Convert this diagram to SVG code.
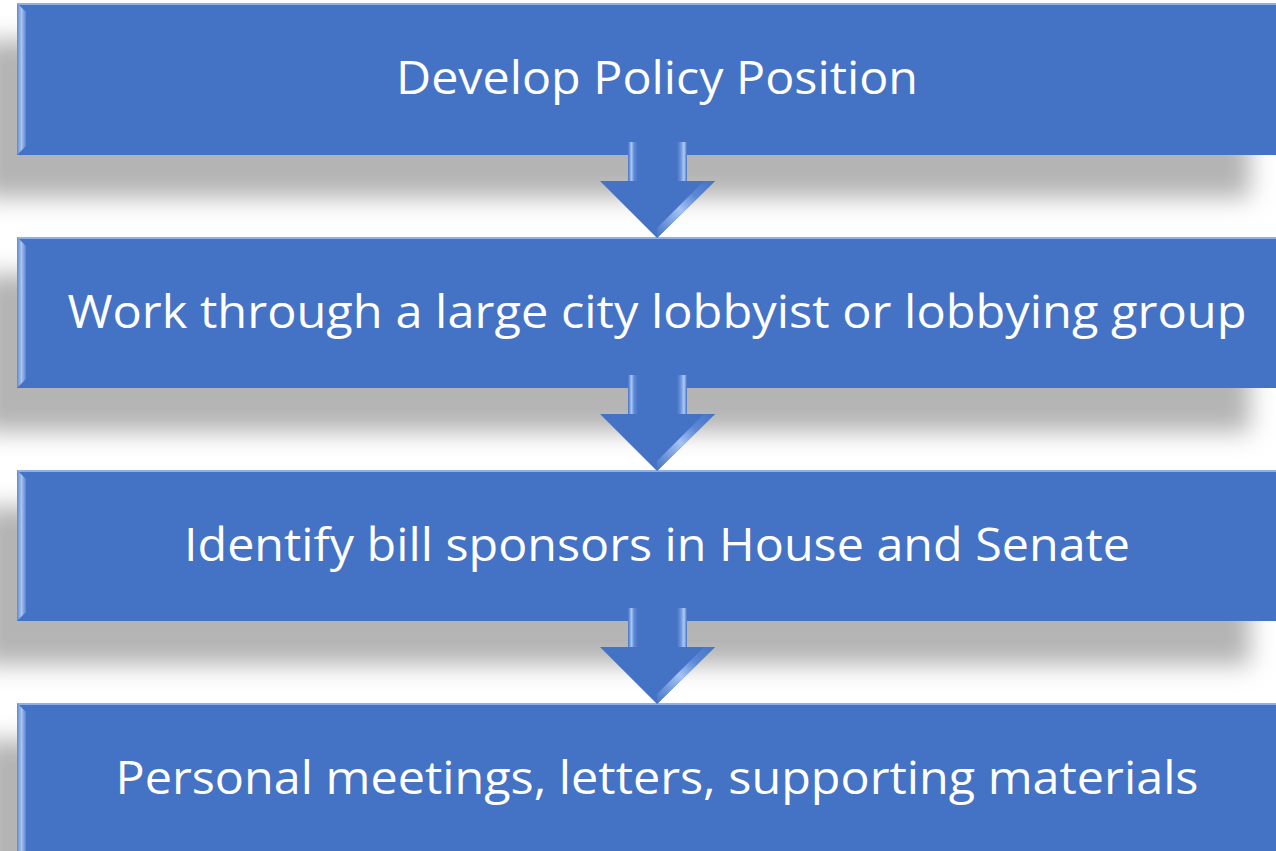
<svg xmlns="http://www.w3.org/2000/svg" width="1276" height="851" viewBox="0 0 1276 851">
<defs>
<filter id="sh" x="-10%" y="-50%" width="120%" height="200%"><feGaussianBlur stdDeviation="12"/></filter>
<linearGradient id="bev" x1="0" y1="0" x2="1" y2="0">
<stop offset="0" stop-color="#5f8ad4"/><stop offset="0.5" stop-color="#a8c4f0"/><stop offset="1" stop-color="#5a84cf"/>
</linearGradient>
<linearGradient id="sl" x1="0" y1="0" x2="1" y2="0">
<stop offset="0" stop-color="#4472c4"/><stop offset="0.35" stop-color="#a8c6f4"/><stop offset="0.6" stop-color="#5e8ad6"/><stop offset="1" stop-color="#4472c4"/>
</linearGradient>
<linearGradient id="sr" x1="0" y1="0" x2="1" y2="0">
<stop offset="0" stop-color="#4472c4"/><stop offset="0.4" stop-color="#6f98dc"/><stop offset="0.7" stop-color="#b0cbf4"/><stop offset="1" stop-color="#4472c4"/>
</linearGradient>
<linearGradient id="hd" x1="0" y1="1" x2="1" y2="0">
<stop offset="0" stop-color="#4472c4"/><stop offset="0.45" stop-color="#a5c3f4"/><stop offset="0.7" stop-color="#5c88d4"/><stop offset="1" stop-color="#4472c4"/>
</linearGradient>
<g id="arrow">
<path d="M628,-7 L687,-7 L687,32 L715,32 L657,89 L600,32 L628,32 Z" fill="#4472c4"/>
<rect x="628" y="-7" width="10" height="39" fill="url(#sl)"/>
<rect x="677" y="-7" width="10" height="39" fill="url(#sr)"/>
<path d="M657,89 L715,32 L704,32 L657,79 Z" fill="url(#hd)"/>
</g>
</defs>
<style>
.box{fill:#4472c4;}
.edge{fill:url(#bev);}
.top{fill:#8fb0e6;}
.shadow{fill:#b4b4b4;}
.lbl{font-family:"Open Sans","Noto Sans",sans-serif;font-size:45px;fill:#ffffff;text-anchor:middle;}
</style>
<rect width="1276" height="851" fill="#ffffff"/>
<g id="shadows">
<rect class="shadow" x="-20" y="40" width="1270" height="158" filter="url(#sh)"/>
<rect class="shadow" x="-20" y="274" width="1270" height="158" filter="url(#sh)"/>
<rect class="shadow" x="-20" y="507" width="1270" height="158" filter="url(#sh)"/>
<rect class="shadow" x="-20" y="740" width="1270" height="158" filter="url(#sh)"/>
</g>
<g id="node1">
<rect class="box" x="17" y="3" width="1262" height="152"/>
<rect class="top" x="17" y="3" width="1262" height="2"/>
<path class="edge" d="M17,3 L26,12 L26,146 L17,155 Z"/>
<text class="lbl" x="657" y="94" textLength="522" lengthAdjust="spacingAndGlyphs">Develop Policy Position</text>
</g>
<g id="node2">
<rect class="box" x="17" y="237" width="1262" height="151"/>
<rect class="top" x="17" y="237" width="1262" height="2"/>
<path class="edge" d="M17,237 L26,246 L26,379 L17,388 Z"/>
<text class="lbl" x="657" y="328" textLength="1179" lengthAdjust="spacingAndGlyphs">Work through a large city lobbyist or lobbying group</text>
</g>
<g id="node3">
<rect class="box" x="17" y="470" width="1262" height="151"/>
<rect class="top" x="17" y="470" width="1262" height="2"/>
<path class="edge" d="M17,470 L26,479 L26,612 L17,621 Z"/>
<text class="lbl" x="657" y="561" textLength="946" lengthAdjust="spacingAndGlyphs">Identify bill sponsors in House and Senate</text>
</g>
<g id="node4">
<rect class="box" x="17" y="703" width="1262" height="152"/>
<rect class="top" x="17" y="703" width="1262" height="2"/>
<path class="edge" d="M17,703 L26,712 L26,851 L17,851 Z"/>
<text class="lbl" x="657" y="794" textLength="1083" lengthAdjust="spacingAndGlyphs">Personal meetings, letters, supporting materials</text>
</g>
<g id="connectors">
<use href="#arrow" y="149"/>
<use href="#arrow" y="382"/>
<use href="#arrow" y="615"/>
</g>
</svg>
